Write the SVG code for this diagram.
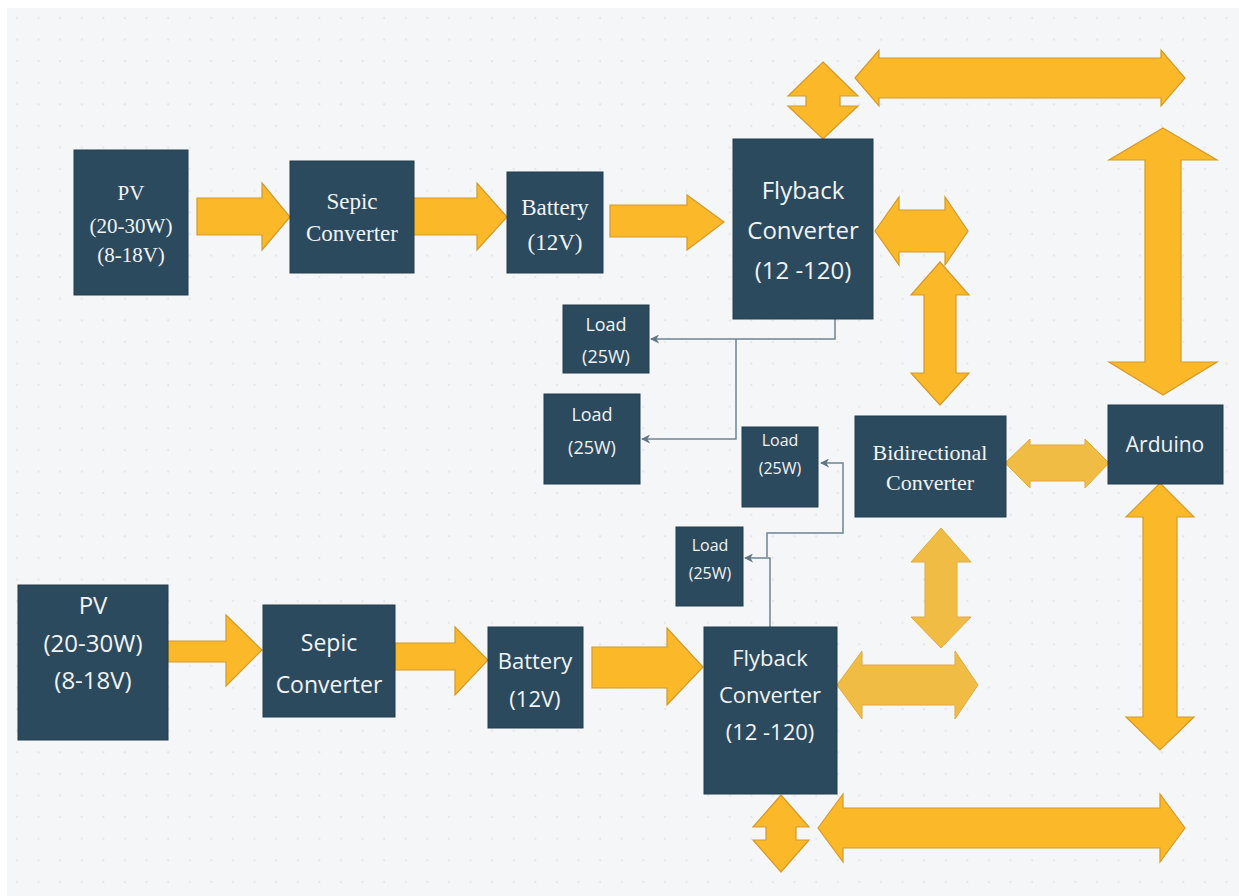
<svg xmlns="http://www.w3.org/2000/svg" width="1239" height="896" viewBox="0 0 1239 896">
<defs>
<pattern id="dots" x="7" y="8" width="21.6" height="21.6" patternUnits="userSpaceOnUse">
<circle cx="10" cy="10" r="1.1" fill="#e2e4ea"/>
</pattern>
<marker id="ah" viewBox="0 0 10 10" refX="9" refY="5" markerWidth="9" markerHeight="9" markerUnits="userSpaceOnUse" orient="auto">
<path d="M0,0 L10,5 L0,10 L3,5 z" fill="#5f7582"/>
</marker>
<style>
.box{fill:#2c4a5e;stroke:#233d4e;stroke-width:1}
.arr{fill:#fbb829;stroke:#d49a2a;stroke-width:1.2}
.arrl{fill:#f0bc44;stroke:#e0ab3a;stroke-width:1}
.serif{font-family:"Liberation Serif","Times New Roman",serif;fill:#f1f3f5;text-anchor:middle}
.sans{font-family:"Open Sans","Noto Sans","Liberation Sans",sans-serif;fill:#f1f3f5;text-anchor:middle}
.conn{fill:none;stroke:#6e8491;stroke-width:1.5}
</style>
</defs>
<rect x="0" y="0" width="1239" height="896" fill="#ffffff"/>
<rect x="7" y="8" width="1232" height="888" fill="#f5f6f8"/>
<rect x="7" y="8" width="1232" height="888" fill="url(#dots)"/>

<g id="arrows">
<polygon class="arr" points="197,198 262,198 262,183 290,217 262,250 262,235 197,235"/>
<polygon class="arr" points="413,198 477,198 477,183 507,217 477,250 477,235 413,235"/>
<polygon class="arr" points="610,205 687,205 687,195 724,222 687,250 687,237 610,237"/>
<polygon class="arr" points="168,641 226,641 226,615 262,650 226,686 226,662 168,662"/>
<polygon class="arr" points="395,643 455,643 455,627 488,660 455,695 455,670 395,670"/>
<polygon class="arr" points="592,647 667,647 667,628 703,667 667,705 667,688 592,688"/>
<polygon class="arr" points="855,78 879,50 879,58 1161,58 1161,50 1185,78 1161,106 1161,98 879,98 879,106"/>
<polygon class="arr" points="875,231 899,197 899,210 945,210 945,197 968,231 945,265 945,252 899,252 899,265"/>
<polygon class="arrl" points="1005,463 1030,439 1030,445 1085,445 1085,439 1109,463 1085,488 1085,481 1030,481 1030,488"/>
<polygon class="arrl" points="837,685 862,651 862,665 955,665 955,651 978,685 955,719 955,705 862,705 862,719"/>
<polygon class="arr" points="818,828 843,794 843,808 1160,808 1160,794 1185,828 1160,862 1160,848 843,848 843,862"/>
<polygon class="arr" points="823,62 858,96 840,96 840,106 858,106 823,139 788,106 806,106 806,96 788,96"/>
<polygon class="arr" points="1163,128 1217,160 1181,160 1181,362 1217,362 1163,395 1109,362 1145,362 1145,160 1109,160"/>
<polygon class="arr" points="940,262 969,295 956,295 956,373 969,373 940,405 911,373 924,373 924,295 911,295"/>
<polygon class="arrl" points="941,528 971,562 957,562 957,617 971,617 941,648 911,617 925,617 925,562 911,562"/>
<polygon class="arr" points="1160,483 1194,517 1177,517 1177,717 1194,717 1160,750 1126,717 1143,717 1143,517 1126,517"/>
<polygon class="arr" points="781,795 809,827 796,827 796,840 809,840 781,872 753,840 766,840 766,827 753,827"/>
</g>

<g id="connectors">
<path class="conn" d="M835,319 V339 H651" marker-end="url(#ah)"/>
<path class="conn" d="M736,339 V439 H642" marker-end="url(#ah)"/>
<path class="conn" d="M770,627 V558 H745" marker-end="url(#ah)"/>
<path class="conn" d="M767,557 V533 H843 V463 H821" marker-end="url(#ah)"/>
</g>

<g id="pv1"><rect class="box" x="74" y="150" width="114" height="145"/>
<text class="serif" font-size="21" x="131" y="200">PV</text>
<text class="serif" font-size="21" x="131" y="233">(20-30W)</text>
<text class="serif" font-size="21" x="131" y="262">(8-18V)</text></g>

<g id="sepic1"><rect class="box" x="290" y="161" width="124" height="112"/>
<text class="serif" font-size="23" x="352" y="209">Sepic</text>
<text class="serif" font-size="23" x="352" y="241">Converter</text></g>

<g id="battery1"><rect class="box" x="507" y="172" width="96" height="101"/>
<text class="serif" font-size="23" x="555" y="215">Battery</text>
<text class="serif" font-size="23" x="555" y="250">(12V)</text></g>

<g id="flyback1"><rect class="box" x="733" y="139" width="140" height="180"/>
<text class="sans" font-size="24" x="803" y="199">Flyback</text>
<text class="sans" font-size="24" x="803" y="239">Converter</text>
<text class="sans" font-size="24" x="803" y="279">(12 -120)</text></g>

<g id="load1"><rect class="box" x="563" y="305" width="86" height="68"/>
<text class="sans" font-size="18" x="606" y="331">Load</text>
<text class="sans" font-size="18" x="606" y="363">(25W)</text></g>

<g id="load2"><rect class="box" x="544" y="394" width="96" height="90"/>
<text class="sans" font-size="18" x="592" y="421">Load</text>
<text class="sans" font-size="18" x="592" y="454">(25W)</text></g>

<g id="load3"><rect class="box" x="742" y="427" width="76" height="80"/>
<text class="sans" font-size="16" x="780" y="446">Load</text>
<text class="sans" font-size="16" x="780" y="474">(25W)</text></g>

<g id="load4"><rect class="box" x="676" y="527" width="67" height="79"/>
<text class="sans" font-size="16" x="710" y="551">Load</text>
<text class="sans" font-size="16" x="710" y="579">(25W)</text></g>

<g id="bidirectional"><rect class="box" x="855" y="416" width="151" height="101"/>
<text class="serif" font-size="22" x="930" y="460">Bidirectional</text>
<text class="serif" font-size="22" x="930" y="490">Converter</text></g>

<g id="arduino"><rect class="box" x="1108" y="405" width="115" height="79"/>
<text class="sans" font-size="21" x="1165" y="452">Arduino</text></g>

<g id="pv2"><rect class="box" x="18" y="585" width="150" height="155"/>
<text class="sans" font-size="24" x="93" y="614">PV</text>
<text class="sans" font-size="24" x="93" y="652">(20-30W)</text>
<text class="sans" font-size="24" x="93" y="689">(8-18V)</text></g>

<g id="sepic2"><rect class="box" x="263" y="605" width="132" height="112"/>
<text class="sans" font-size="23" x="329" y="651">Sepic</text>
<text class="sans" font-size="23" x="329" y="693">Converter</text></g>

<g id="battery2"><rect class="box" x="488" y="627" width="95" height="101"/>
<text class="sans" font-size="22" x="535" y="669">Battery</text>
<text class="sans" font-size="22" x="535" y="707">(12V)</text></g>

<g id="flyback2"><rect class="box" x="704" y="627" width="133" height="167"/>
<text class="sans" font-size="22" x="770" y="666">Flyback</text>
<text class="sans" font-size="22" x="770" y="703">Converter</text>
<text class="sans" font-size="22" x="770" y="740">(12 -120)</text></g>
</svg>
